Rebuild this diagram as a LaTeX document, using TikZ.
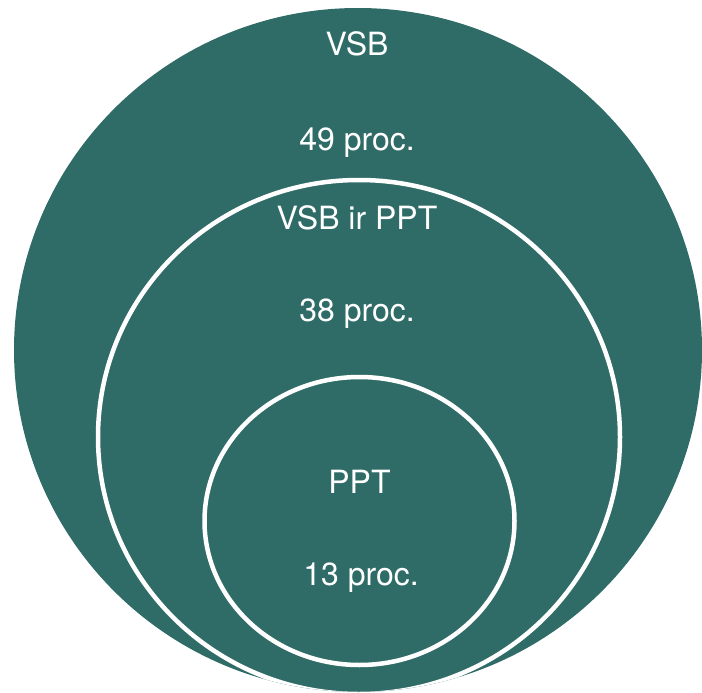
\documentclass[tikz,border=0pt]{standalone}
\usepackage{fontspec}
\setmainfont{TeX Gyre Heros}
\definecolor{vsbteal}{RGB}{47,107,103}

\begin{document}
\begin{tikzpicture}[x=1pt,y=-1pt,
  ring/.style={draw=white, line width=4.5pt},
  lbl/.style={text=white, anchor=base, inner sep=0pt, font=\fontsize{32}{38}\selectfont}]
\useasboundingbox (0,0) rectangle (702,693);
\clip (0,0) rectangle (702,693);
\coordinate (big) at (358,350);
\coordinate (mid) at (359,437);
\coordinate (small) at (359.5,521);
\fill[vsbteal] (big) ellipse [x radius=344, y radius=342];
\begin{scope}
\clip (big) ellipse [x radius=344, y radius=342];
\draw[ring] (mid) ellipse [x radius=261, y radius=257];
\end{scope}
\draw[ring] (small) ellipse [x radius=155, y radius=144];
\node[lbl] (vsb) at (357,56) {VSB};
\node[lbl] (vsbpct) at (357,150) {49 proc.};
\node[lbl] (both) at (357,229) {VSB ir PPT};
\node[lbl] (bothpct) at (357,321) {38 proc.};
\node[lbl] (ppt) at (359.5,493) {PPT};
\node[lbl] (pptpct) at (361,585) {13 proc.};
\end{tikzpicture}
\end{document}
